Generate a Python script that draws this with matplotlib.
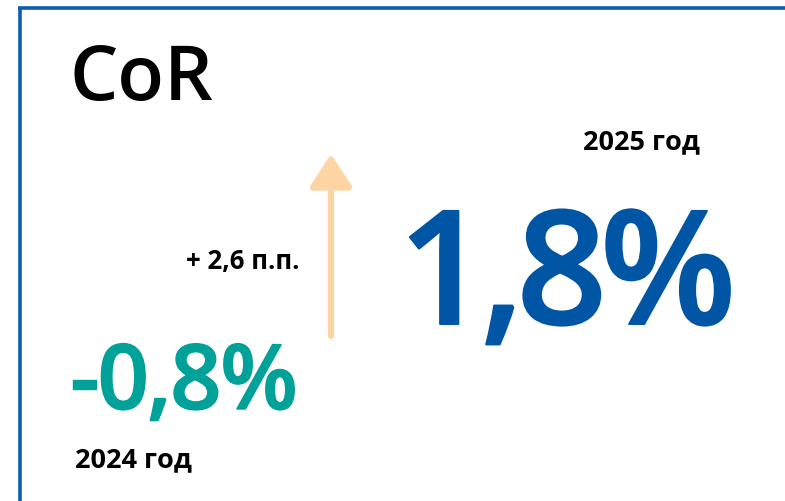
import matplotlib.pyplot as plt
import matplotlib.patheffects as pe

# values shown on the card
years = ["2024 год", "2025 год"]
cor_values = [-0.8, 1.8]
change_pp = 2.6

title = "CoR"

def fmt_pct(v):
    return f"{v:.1f}%".replace(".", ",")

plt.rcParams['font.family'] = ['Open Sans', 'DejaVu Sans']

fig = plt.figure(figsize=(7.85, 5.02), dpi=100)
ax = fig.add_axes([0, 0, 1, 1])
ax.set_xlim(0, 785)
ax.set_ylim(502, 0)
ax.axis('off')
renderer = fig.canvas.get_renderer()


def tracked_text(s, x, y, tracking, **kw):
    # draw a string char by char with tighter letter spacing
    for ch in s:
        t = ax.text(x, y, ch, ha='left', va='baseline', **kw)
        bb = t.get_window_extent(renderer)
        x += bb.width + tracking


# frame (top and left edges only)
frame_color = '#0B5CB0'
ax.plot([19.5, 19.5], [8.5, 502], color=frame_color, lw=2.6, solid_capstyle='butt')
ax.plot([18.2, 785], [8.5, 8.5], color=frame_color, lw=2.6, solid_capstyle='butt')

# title
ax.text(70, 100, title, fontsize=55, fontweight='semibold', color='black',
        ha='left', va='baseline')

# 2025 value
ax.text(700, 149, years[1], fontsize=19.5, fontweight='bold', color='black',
        ha='right', va='baseline')
blue = '#0055A5'
tracked_text(fmt_pct(cor_values[1]), 398, 325, -7, fontsize=114,
             fontweight='semibold', color=blue,
             path_effects=[pe.withStroke(linewidth=1.5, foreground=blue)])

# change arrow
ax.annotate('', xy=(331, 155), xytext=(331, 337),
            arrowprops=dict(arrowstyle='-|>,head_length=2.0,head_width=1.3',
                            color='#FDD5A5', lw=4.5, shrinkA=0, shrinkB=0))
ax.text(300, 269, f"+ {change_pp:.1f} п.п.".replace(".", ",", 1), fontsize=18.5,
        fontweight='bold', color='black', ha='right', va='baseline')

# 2024 value
teal = '#00A199'
tracked_text(fmt_pct(cor_values[0]), 70, 410, -1.5, fontsize=65,
             fontweight='semibold', color=teal,
             path_effects=[pe.withStroke(linewidth=1, foreground=teal)])
ax.text(75, 467, years[0], fontsize=19.5, fontweight='bold', color='black',
        ha='left', va='baseline')

fig.savefig('out.png', dpi=100)
